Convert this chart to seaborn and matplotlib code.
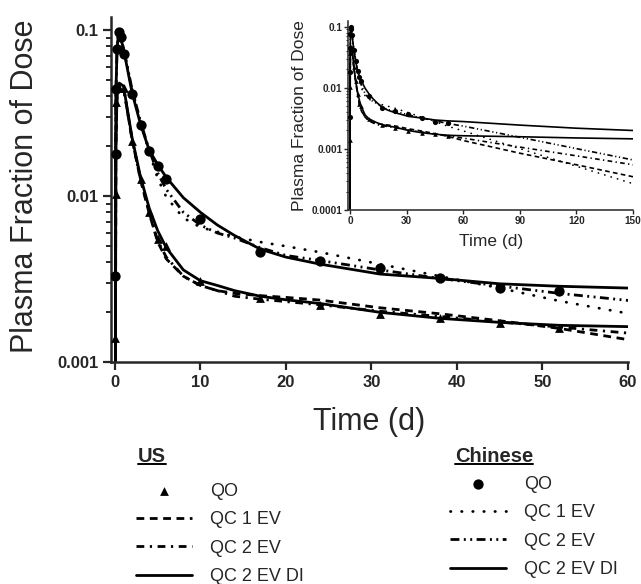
import numpy as np
import pandas as pd
import matplotlib
matplotlib.use("Agg")
import matplotlib.pyplot as plt
import seaborn as sns
from matplotlib.ticker import LogLocator, NullFormatter
from matplotlib.lines import Line2D

# ---------------- data ----------------
us_qo_t = [0.04, 0.08, 0.17, 0.25, 0.5, 1, 2, 3, 4, 5, 6, 10, 17, 24, 31, 38, 45, 52]
us_qo_v = [0.0014, 0.0103, 0.037, 0.046, 0.045, 0.045, 0.0215, 0.0127, 0.0080, 0.0055,
           0.0050, 0.0031, 0.00245, 0.0022, 0.00196, 0.00184, 0.00172, 0.00162]
cn_qo_t = [0.04, 0.08, 0.17, 0.25, 0.5, 0.75, 1, 2, 3, 4, 5, 6, 10, 17, 24, 31, 38, 45, 52]
cn_qo_v = [0.0033, 0.018, 0.044, 0.077, 0.097, 0.091, 0.072, 0.041, 0.027, 0.0187, 0.0152,
           0.0127, 0.0073, 0.0046, 0.0041, 0.0037, 0.0032, 0.0028, 0.0027]

model_t = [0, 0.1, 0.25, 0.5, 1, 2, 3, 4, 5, 6, 8, 10, 12, 14, 17, 20, 24, 31, 38, 45, 52, 60,
           90, 120, 150]
us_qc1ev = [1e-5, 0.02, 0.042, 0.047, 0.045, 0.022, 0.0125, 0.0079, 0.0053, 0.0042, 0.0033,
            0.0029, 0.0027, 0.0026, 0.00252, 0.00246, 0.00237, 0.00213, 0.00196, 0.00178,
            0.00160, 0.00137, 0.00085, 0.00055, 0.00035]
us_qc2ev = [1e-5, 0.02, 0.042, 0.047, 0.045, 0.022, 0.0126, 0.0080, 0.0054, 0.0043, 0.0033,
            0.0029, 0.0027, 0.0025, 0.0024, 0.00232, 0.00222, 0.00203, 0.00189, 0.00175,
            0.00163, 0.0015, 0.00107, 0.00077, 0.00055]
us_qc2evdi = [1e-5, 0.02, 0.042, 0.048, 0.046, 0.0225, 0.013, 0.0085, 0.0062, 0.0049, 0.0036,
              0.0031, 0.0029, 0.0027, 0.0025, 0.00238, 0.00226, 0.0020, 0.00184, 0.00174,
              0.00167, 0.00164, 0.00158, 0.00151, 0.00146]
cn_qc1ev = [1e-5, 0.04, 0.08, 0.097, 0.078, 0.044, 0.028, 0.0185, 0.0128, 0.0099, 0.0074,
            0.0065, 0.0061, 0.0057, 0.0053, 0.0050, 0.0046, 0.0039, 0.0033, 0.0028, 0.00234,
            0.00197, 0.00101, 0.00052, 0.00027]
cn_qc2ev = [1e-5, 0.04, 0.08, 0.097, 0.078, 0.044, 0.028, 0.019, 0.0138, 0.011, 0.008,
            0.0067, 0.0060, 0.0056, 0.0049, 0.0044, 0.0041, 0.0036, 0.0032, 0.00288, 0.0026,
            0.00236, 0.00155, 0.00101, 0.00066]
cn_qc2evdi = [1e-5, 0.04, 0.08, 0.097, 0.077, 0.042, 0.027, 0.019, 0.0155, 0.013, 0.0098,
              0.0080, 0.0067, 0.0058, 0.0048, 0.0043, 0.0039, 0.0034, 0.0032, 0.00297,
              0.00287, 0.0028, 0.00245, 0.00218, 0.0020]

legend_labels = ["QO", "QC 1 EV", "QC 2 EV", "QC 2 EV DI"]

# ---------------- style ----------------
sns.set_style("ticks")
plt.rcParams["font.family"] = ["Liberation Sans", "DejaVu Sans"]
plt.rcParams["axes.linewidth"] = 1.8

fig = plt.figure(figsize=(6.41, 5.84), dpi=100)
ax = fig.add_axes([0.1727, 0.3796, 0.8066, 0.5913])
axin = fig.add_axes([0.5434, 0.6404, 0.4441, 0.3241])

styles = {
    "us1": dict(linestyle=(0, (2.8, 2.0)), dash_capstyle="butt"),
    "us2": dict(linestyle=(0, (2.8, 2.0, 0.8, 2.0)), dash_capstyle="butt"),
    "usdi": dict(linestyle="-"),
    "cn1": dict(linestyle=(0, (0.15, 3.85)), dash_capstyle="round"),
    "cn2": dict(linestyle=(0, (3.2, 1.6, 0.7, 1.6, 0.7, 1.6)), dash_capstyle="butt"),
    "cndi": dict(linestyle="-"),
}
curves = [("us1", us_qc1ev), ("us2", us_qc2ev), ("usdi", us_qc2evdi),
          ("cn1", cn_qc1ev), ("cn2", cn_qc2ev), ("cndi", cn_qc2evdi)]


def draw(a, lw, s_circ, s_tri):
    handles = {}
    for key, vals in curves:
        sns.lineplot(x=model_t, y=vals, ax=a, color="black", linewidth=lw,
                     estimator=None, sort=False, **styles[key])
        handles[key] = a.lines[-1]
    handles["usqo"] = sns.scatterplot(x=us_qo_t, y=us_qo_v, ax=a, marker="^", s=s_tri,
                                      color="black", edgecolor="black", linewidth=0,
                                      zorder=5).collections[-1]
    handles["cnqo"] = sns.scatterplot(x=cn_qo_t, y=cn_qo_v, ax=a, marker="o", s=s_circ,
                                      color="black", edgecolor="black", linewidth=0,
                                      zorder=5).collections[-1]
    a.set_yscale("log")
    sns.despine(ax=a)
    return handles


h = draw(ax, 2.0, 55, 40)
draw(axin, 1.2, 14, 11)

# main axes
ax.set_xlim(-0.5, 60)
ax.set_ylim(0.001, 0.12)
ax.set_xticks(range(0, 61, 10), [str(v) for v in range(0, 61, 10)],
              fontweight="bold", fontsize=12)
ax.set_yticks([0.001, 0.01, 0.1], ["0.001", "0.01", "0.1"], fontweight="bold", fontsize=12)
ax.yaxis.set_minor_locator(LogLocator(base=10, subs=np.arange(2, 10)))
ax.yaxis.set_minor_formatter(NullFormatter())
ax.tick_params(axis="both", which="major", direction="out", length=5.8, width=1.6, pad=3)
ax.tick_params(axis="y", which="minor", direction="out", length=3.6, width=1.4)
ax.tick_params(axis="y", which="major", pad=3)
ax.set_xlabel("Time (d)", fontsize=22)
ax.set_ylabel("Plasma Fraction of Dose", fontsize=22)
ax.xaxis.set_label_coords(0.5, -0.13)
ax.yaxis.set_label_coords(-0.137, 0.51)

# inset
axin.set_xlim(-0.9, 150)
axin.set_ylim(1e-4, 0.125)
axin.set_xticks(range(0, 151, 30), [str(v) for v in range(0, 151, 30)],
                fontweight="bold", fontsize=7.2)
axin.set_yticks([1e-4, 1e-3, 1e-2, 1e-1], ["0.0001", "0.001", "0.01", "0.1"],
                fontweight="bold", fontsize=7.2)
axin.yaxis.set_minor_locator(LogLocator(base=10, subs=np.arange(2, 10)))
axin.yaxis.set_minor_formatter(NullFormatter())
for sp in axin.spines.values():
    sp.set_linewidth(1.1)
axin.tick_params(axis="both", which="major", direction="out", length=2.6, width=1.0, pad=1.5)
axin.tick_params(axis="y", which="minor", direction="out", length=1.6, width=0.8)
axin.set_xlabel("Time (d)", fontsize=12.5)
axin.set_ylabel("Plasma Fraction of Dose", fontsize=12.5)
axin.xaxis.set_label_coords(0.5, -0.125)
axin.yaxis.set_label_coords(-0.145, 0.5)

# legends
W, H = 641.0, 584.0
leg_kw = dict(frameon=False, fontsize=13, handlelength=3.1, handletextpad=1.0,
              labelspacing=0.63, borderpad=0, borderaxespad=0, loc="upper left",
              scatterpoints=1, bbox_transform=fig.transFigure)
leg_us = fig.legend([h["usqo"], h["us1"], h["us2"], h["usdi"]], legend_labels,
                    bbox_to_anchor=(136 / W, 1 - 483 / H), **leg_kw)
leg_cn = fig.legend([h["cnqo"], h["cn1"], h["cn2"], h["cndi"]], legend_labels,
                    bbox_to_anchor=(450 / W, 1 - 476 / H), **leg_kw)

t_us = fig.text(138 / W, 1 - 461.7 / H, "US", fontsize=14.5, fontweight="bold",
                ha="left", va="baseline")
t_cn = fig.text(455 / W, 1 - 461.7 / H, "Chinese", fontsize=14.5, fontweight="bold",
                ha="left", va="baseline")
fig.canvas.draw()
r = fig.canvas.get_renderer()
for t in (t_us, t_cn):
    bb = t.get_window_extent(r)
    yline = (H - 463.5) / H
    fig.add_artist(Line2D([bb.x0 / W, bb.x1 / W], [yline, yline], color="black",
                          linewidth=1.4, transform=fig.transFigure))

fig.savefig("out.png", dpi=100)
